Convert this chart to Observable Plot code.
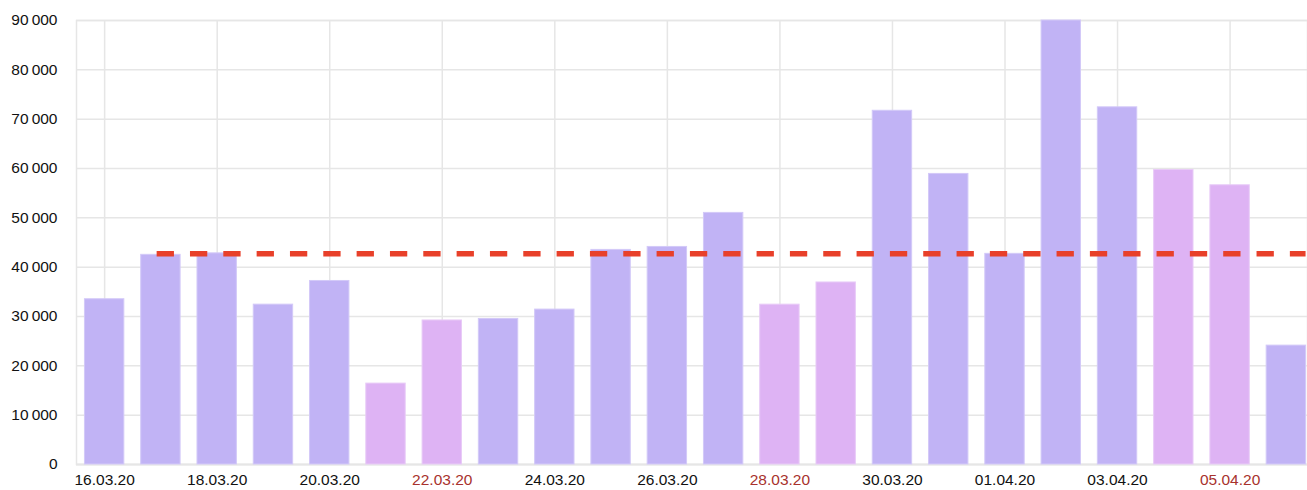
<!DOCTYPE html>
<html>
<head>
<meta charset="utf-8">
<script src="https://cdn.jsdelivr.net/npm/d3@7"></script>
<script src="https://cdn.jsdelivr.net/npm/@observablehq/plot@0.6"></script>
<style>
  html, body { margin: 0; padding: 0; background: #fff; }
  #chart svg { display: block; }
</style>
</head>
<body>
<div id="chart"></div>
<script>
const dates = ["16.03.20","17.03.20","18.03.20","19.03.20","20.03.20","21.03.20","22.03.20",
  "23.03.20","24.03.20","25.03.20","26.03.20","27.03.20","28.03.20","29.03.20",
  "30.03.20","31.03.20","01.04.20","02.04.20","03.04.20","04.04.20","05.04.20","06.04.20"];
const values = [33500, 42500, 42800, 32400, 37200, 16400, 29200,
  29500, 31400, 43500, 44100, 51000, 32400, 36900,
  71700, 58900, 42700, 90000, 72400, 59700, 56600, 24100];
const weekend = [false,false,false,false,false,true,true,
  false,false,false,false,false,true,true,
  false,false,false,false,false,true,true,false];
const referenceValue = 42700;
const referenceFrom = "17.03.20";
const referenceTo = "06.04.20";
const blackLabels = ["16.03.20","18.03.20","20.03.20","24.03.20","26.03.20","30.03.20","01.04.20","03.04.20"];
const redLabels = ["22.03.20","28.03.20","05.04.20"];
const yTicks = [0,10000,20000,30000,40000,50000,60000,70000,80000,90000];

const data = dates.map((d, i) => ({date: d, value: values[i], weekend: weekend[i]}));
const refData = [{from: referenceFrom, to: referenceTo, value: referenceValue}];

const fmt = d3.formatLocale({thousands: "\u2009", grouping: [3], decimal: ","}).format(",");
const gridColor = "#e6e6e6";

const chart = Plot.plot({
  width: 1307,
  height: 490,
  marginLeft: 76,
  marginRight: 0,
  marginTop: 20,
  marginBottom: 26,
  style: {fontFamily: "'Liberation Sans', Arial, sans-serif", fontSize: "15.5px", color: "#111"},
  x: {domain: dates, range: [76, 1314], paddingInner: 0.3, paddingOuter: 0.15, round: false, axis: null, label: null},
  y: {domain: [0, 90000], axis: null, label: null},
  marks: [
    Plot.gridY(yTicks, {stroke: gridColor, strokeOpacity: 1, strokeWidth: 1.5}),
    Plot.gridX(blackLabels.concat(redLabels), {stroke: gridColor, strokeOpacity: 1, strokeWidth: 1.5}),
    Plot.ruleY([0], {stroke: "#dcdcdc", strokeWidth: 1.5}),
    Plot.frame({stroke: gridColor, strokeWidth: 1.5}),
    Plot.barY(data.filter(d => !d.weekend), {x: "date", y: "value", fill: "#c1b3f5", stroke: "#d3c9f8", strokeWidth: 1}),
    Plot.barY(data.filter(d => d.weekend), {x: "date", y: "value", fill: "#deb3f4", stroke: "#e8cbf7", strokeWidth: 1}),
    Plot.ruleY(refData, {x1: "from", x2: "to", y: "value", stroke: "#e8402a", strokeWidth: 5.5, strokeDasharray: "17.3,16.03", strokeDashoffset: 17.4}),
    Plot.axisY(yTicks, {tickSize: 0, tickPadding: 19, tickFormat: fmt, fill: "#111", fontSize: 15.5, label: null}),
    Plot.axisX(blackLabels, {tickSize: 0, tickPadding: 9, fill: "#111", fontSize: 15.5, label: null}),
    Plot.axisX(redLabels, {tickSize: 0, tickPadding: 9, fill: "#a8322d", fontSize: 15.5, label: null})
  ]
});
document.getElementById("chart").appendChild(chart);
</script>
</body>
</html>
